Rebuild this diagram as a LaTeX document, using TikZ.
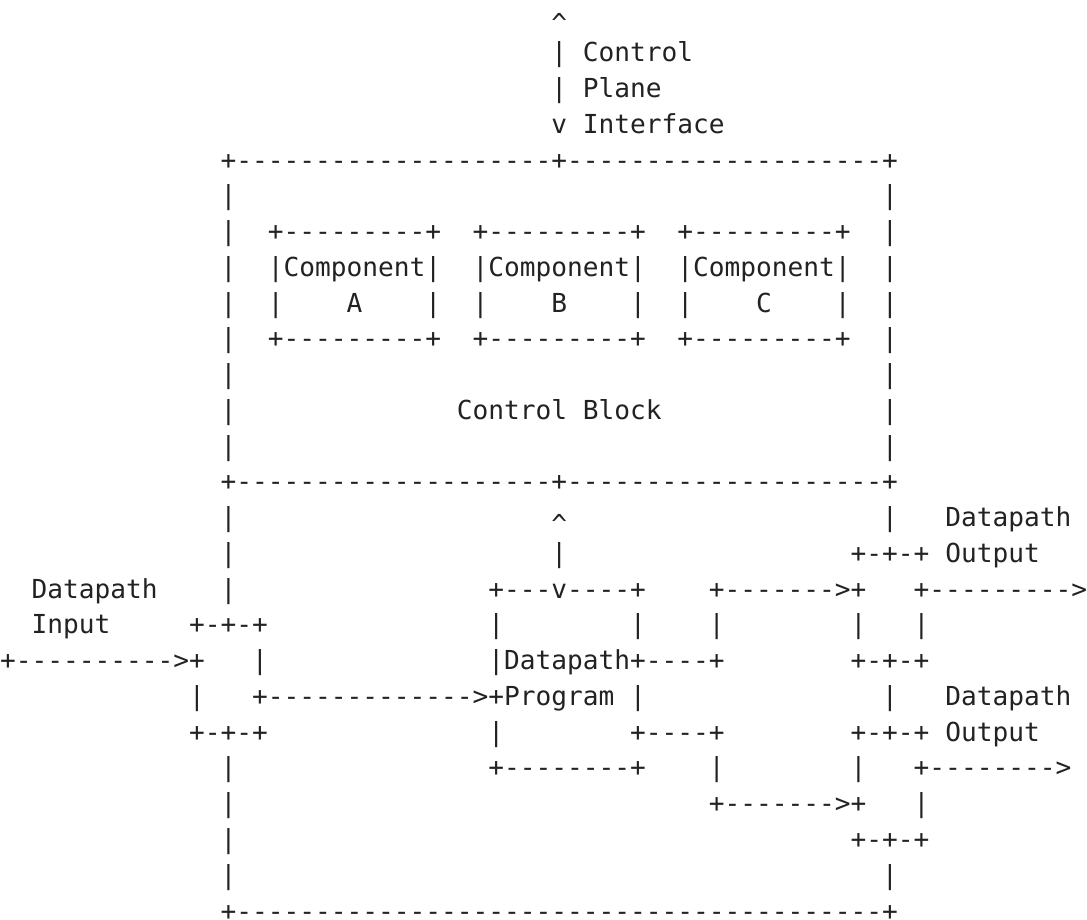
\documentclass[tikz,border=0pt]{standalone}
\usepackage{fontspec}
\setmonofont{DejaVu Sans Mono}
\definecolor{ink}{HTML}{222222}

% a run of n hyphens
\ExplSyntaxOn
\cs_new:Npn \dashrun #1 { \prg_replicate:nn {#1} {-} }
\ExplSyntaxOff

% arrow head pointing up, set a little lower in its cell
\newcommand\uphead{\raisebox{-3.5pt}{\textasciicircum}}

% character grid: one cell is 7.877pt wide, one row is 17.9pt high
\tikzset{glyphs/.style={font=\ttfamily\fontsize{13.084pt}{17.9pt}\selectfont,
    text=ink, anchor=base west, inner sep=0pt, outer sep=0pt, text depth=0pt}}
% \seg{name}{column}{row}{text}
\newcommand\seg[4]{\node[glyphs] (#1) at ({(#2)*7.877pt},{-13pt-((#3)-1)*17.88pt}) {#4};}

\begin{document}
\begin{tikzpicture}
\useasboundingbox (0,0) rectangle (543.5pt,-460pt);

% control plane interface
\seg{cpiTip}{35}{1}{\uphead}
\seg{cpiBarA}{35}{2}{|}
\seg{cpiLabelA}{37}{2}{Control}
\seg{cpiBarB}{35}{3}{|}
\seg{cpiLabelB}{37}{3}{Plane}
\seg{cpiFoot}{35}{4}{v}
\seg{cpiLabelC}{37}{4}{Interface}

% control block frame
\seg{cbTop}{14}{5}{+\dashrun{20}+\dashrun{20}+}
\foreach \r in {6,...,13}{
  \seg{cbL\r}{14}{\r}{|}
  \seg{cbR\r}{56}{\r}{|}
}
\seg{cbBottom}{14}{14}{+\dashrun{20}+\dashrun{20}+}

% components
\foreach \c/\n in {17/A,30/B,43/C}{
  \seg{comp\n-top}{\c}{7}{+\dashrun{9}+}
  \seg{comp\n-name}{\c}{8}{|Component|}
  \seg{comp\n-left}{\c}{9}{|}
  \seg{comp\n-letter}{\c+5}{9}{\n}
  \seg{comp\n-right}{\c+10}{9}{|}
  \seg{comp\n-bot}{\c}{10}{+\dashrun{9}+}
}
\seg{cbLabelA}{29}{12}{Control}
\seg{cbLabelB}{37}{12}{Block}

% datapath frame
\foreach \r in {15,16,17,22,23,24,25}{
  \seg{dpL\r}{14}{\r}{|}
}
\foreach \r in {15,20,25}{
  \seg{dpR\r}{56}{\r}{|}
}
\seg{dpBottom}{14}{26}{+\dashrun{41}+}

% link between control block and datapath program
\seg{progTip}{35}{15}{\uphead}
\seg{progBar}{35}{16}{|}

% datapath program
\seg{progTop}{31}{17}{+\dashrun{3}v\dashrun{4}+}
\seg{progL18}{31}{18}{|}
\seg{progR18}{40}{18}{|}
\seg{progRow19}{31}{19}{|Datapath+\dashrun{4}+}
\seg{progRow20}{16}{20}{+\dashrun{13}>+Program}
\seg{progR20}{40}{20}{|}
\seg{progL21}{31}{21}{|}
\seg{progRow21}{40}{21}{+\dashrun{4}+}
\seg{progBottom}{31}{22}{+\dashrun{8}+}

% fan-out to the two outputs
\seg{fanTop}{45}{17}{+\dashrun{7}>+}
\seg{fanUp18}{45}{18}{|}
\seg{fanLow22}{45}{22}{|}
\seg{fanBottom}{45}{23}{+\dashrun{7}>+}

% datapath input
\seg{inLabelA}{2}{17}{Datapath}
\seg{inLabelB}{2}{18}{Input}
\seg{inTop}{12}{18}{+-+-+}
\seg{inArrow}{0}{19}{+\dashrun{10}>+}
\seg{inR19}{16}{19}{|}
\seg{inL20}{12}{20}{|}
\seg{inBottom}{12}{21}{+-+-+}

% first datapath output
\seg{outALabelA}{60}{15}{Datapath}
\seg{outATop}{54}{16}{+-+-+}
\seg{outALabelB}{60}{16}{Output}
\seg{outAArrow}{58}{17}{+\dashrun{9}>}
\seg{outAL}{54}{18}{|}
\seg{outAR}{58}{18}{|}
\seg{outABottom}{54}{19}{+-+-+}

% second datapath output
\seg{outBLabelA}{60}{20}{Datapath}
\seg{outBTop}{54}{21}{+-+-+}
\seg{outBLabelB}{60}{21}{Output}
\seg{outBL}{54}{22}{|}
\seg{outBArrow}{58}{22}{+\dashrun{8}>}
\seg{outBR}{58}{23}{|}
\seg{outBBottom}{54}{24}{+-+-+}
\end{tikzpicture}
\end{document}
